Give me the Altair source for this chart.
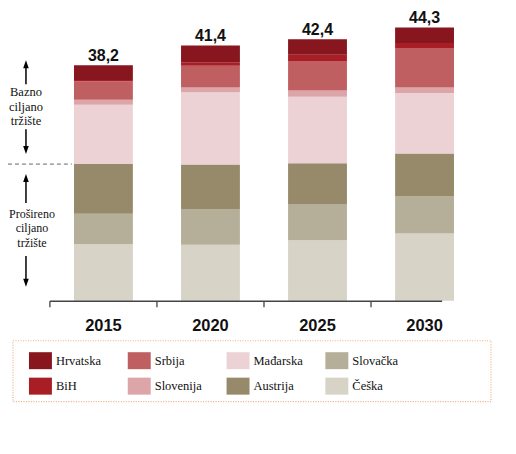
import altair as alt
import pandas as pd

years = ["2015", "2020", "2025", "2030"]
totals = [38.2, 41.4, 42.4, 44.3]

# segment values per country (bottom to top in stack: Češka ... Hrvatska)
ceska = [9.2, 9.1, 9.8, 10.9]
slovacka = [4.9, 5.7, 5.9, 6.0]
austrija = [8.1, 7.3, 6.6, 7.0]
madarska = [9.6, 11.7, 10.8, 9.8]
slovenija = [0.8, 0.8, 1.0, 0.9]
srbija = [3.0, 3.5, 4.8, 6.4]
bih = [0.2, 0.6, 1.0, 0.8]
hrvatska = [2.4, 2.7, 2.5, 2.5]

stack_order = ["Češka", "Slovačka", "Austrija", "Mađarska", "Slovenija", "Srbija", "BiH", "Hrvatska"]
series = [ceska, slovacka, austrija, madarska, slovenija, srbija, bih, hrvatska]

legend_order = ["Hrvatska", "Srbija", "Mađarska", "Slovačka", "BiH", "Slovenija", "Austrija", "Češka"]
legend_colors = ["#87161F", "#BF5F61", "#EDD2D5", "#B5AF99", "#A81E24", "#DCA5A8", "#968A6B", "#D7D3C7"]

rows = []
for rank, (name, vals) in enumerate(zip(stack_order, series)):
    for y, v in zip(years, vals):
        rows.append({"year": y, "country": name, "value": v, "rank": rank})
df = pd.DataFrame(rows)

tot_df = pd.DataFrame({"year": years, "total": totals,
                       "label": [f"{t:.1f}".replace(".", ",") for t in totals]})
years_df = pd.DataFrame({"year": years})
one = alt.Data(values=[{"k": 0}])

xscale = alt.Scale(domain=years, paddingInner=0, paddingOuter=0)
yscale = alt.Scale(domain=[0, 47.25], nice=False)
xaxis = alt.Axis(labelAngle=0, domain=False, ticks=False, labelFont="Liberation Sans",
                 labelFontWeight="bold", labelFontSize=16.5, labelColor="#111",
                 labelPadding=17, title=None)

bars = alt.Chart(df).mark_bar(width=alt.RelativeBandSize(0.55)).encode(
    x=alt.X("year:N", scale=xscale, title=None, axis=xaxis),
    y=alt.Y("value:Q", stack="zero", scale=yscale, axis=None),
    color=alt.Color("country:N", scale=alt.Scale(domain=legend_order, range=legend_colors),
                    legend=alt.Legend(title=None, orient="none", legendX=-21, legendY=340,
                                      columns=4, direction="horizontal",
                                      symbolType="M-1,-0.74H1V0.74H-1Z", symbolSize=529,
                                      symbolStrokeWidth=0, symbolOpacity=1,
                                      labelFont="Liberation Serif", labelFontSize=12.5,
                                      labelColor="#111", labelOffset=4, columnPadding=22,
                                      rowPadding=5, gridAlign="all", padding=0)),
    order=alt.Order("rank:Q", sort="ascending"),
)

tot_text = alt.Chart(tot_df).mark_text(font="Liberation Sans", fontWeight="bold", fontSize=16,
                                       baseline="alphabetic", dy=-4.5, color="#111").encode(
    x=alt.X("year:N", scale=xscale, title=None, axis=xaxis),
    y=alt.Y("total:Q", scale=yscale, axis=None),
    text="label:N",
)

ticks = alt.Chart(years_df).mark_rule(color="#333", strokeWidth=1.2).encode(
    x=alt.X("year:N", scale=xscale, bandPosition=0, title=None, axis=xaxis),
    y=alt.value(292.5), y2=alt.value(298.5),
)

domain_line = alt.Chart(one).mark_rule(color="#444", strokeWidth=1.5).encode(
    x=alt.value(0), x2=alt.value(393), y=alt.value(292.5))

dashed = alt.Chart(one).mark_rule(color="#666", strokeWidth=1, strokeDash=[4, 3]).encode(
    x=alt.value(-42), x2=alt.value(22), y=alt.value(155))

def shaft(y1, y2):
    return alt.Chart(one).mark_rule(color="#000", strokeWidth=1.5).encode(
        x=alt.value(-24), y=alt.value(y1), y2=alt.value(y2))

def head(yc, up):
    path = "M0,-1L0.7,1L-0.7,1Z" if up else "M0,1L0.7,-1L-0.7,-1Z"
    return alt.Chart(one).mark_point(shape=path, filled=True, size=64, color="#000", opacity=1).encode(
        x=alt.value(-24), y=alt.value(yc))

arrows = [
    shaft(57, 75), head(55, True),
    shaft(120, 141), head(141, False),
    shaft(169, 194), head(169, True),
    shaft(247, 274), head(274, False),
]

txt1 = alt.Chart(one).mark_text(text=["Bazno", "ciljano", "tržište"], font="Liberation Serif",
                                fontSize=12.5, baseline="top", align="center", lineHeight=14.8,
                                color="#111").encode(x=alt.value(-24), y=alt.value(76.7))
txt2 = alt.Chart(one).mark_text(text=["Prošireno", "ciljano", "tržište"], font="Liberation Serif",
                                fontSize=12, baseline="top", align="center", lineHeight=14.3,
                                color="#111").encode(x=alt.value(-18), y=alt.value(200))

legend_box = alt.Chart(one).mark_rect(fill="white", stroke="#EFAE82", strokeWidth=1.2,
                                      strokeDash=[1, 1.5]).encode(
    x=alt.value(-37), x2=alt.value(442), y=alt.value(332), y2=alt.value(393))

chart = alt.layer(legend_box, bars, tot_text, ticks, domain_line, dashed, *arrows, txt1, txt2).properties(
    width=429, height=292,
    padding={"left": 42, "top": 1, "right": 30, "bottom": 108},
    autosize=alt.AutoSizeParams(type="none"),
).configure_view(stroke=None)

chart.save("out.html", embed_options={"renderer": "svg", "actions": False})
